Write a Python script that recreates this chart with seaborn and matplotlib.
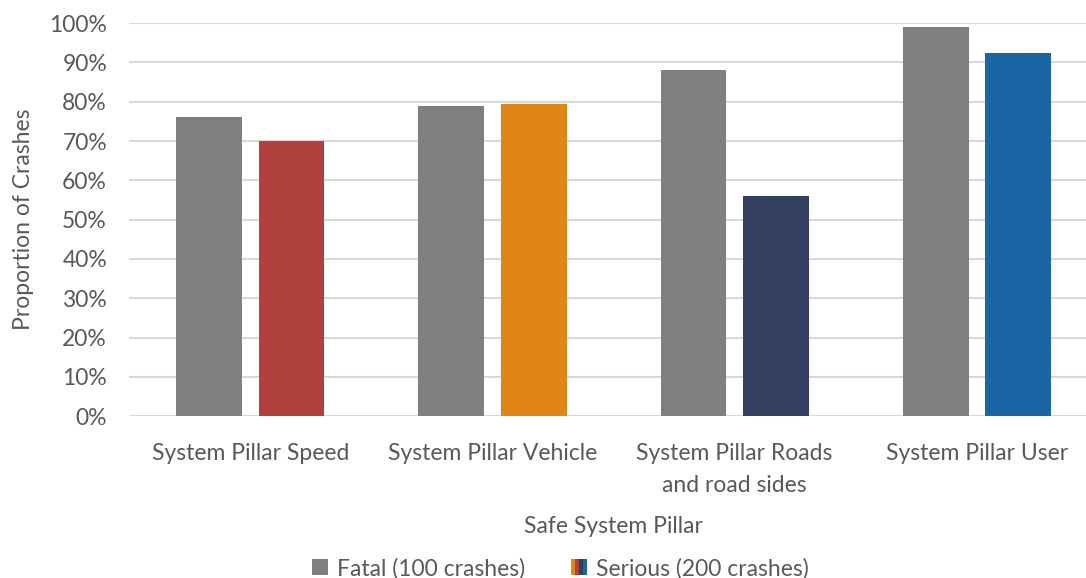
import matplotlib
matplotlib.use("Agg")
import matplotlib.pyplot as plt
import seaborn as sns
import pandas as pd
from matplotlib.patches import Rectangle
from matplotlib.legend_handler import HandlerBase

categories = ["System Pillar Speed", "System Pillar Vehicle",
              "System Pillar Roads\nand road sides", "System Pillar User"]
fatal = [0.76, 0.79, 0.88, 0.99]
serious = [0.70, 0.795, 0.56, 0.925]
series = ["Fatal (100 crashes)", "Serious (200 crashes)"]
yticks = [0, 0.1, 0.2, 0.3, 0.4, 0.5, 0.6, 0.7, 0.8, 0.9, 1.0]

fatal_color = "#7F7F7F"
serious_colors = ["#B0413E", "#E08518", "#333F60", "#1A65A3"]

sns.set_theme(style="white")
plt.rcParams["font.family"] = ["Lato", "DejaVu Sans"]

df = pd.DataFrame({
    "cat": categories * 2,
    "val": fatal + serious,
    "series": [series[0]] * 4 + [series[1]] * 4,
})

FS = 16.5
fig = plt.figure(figsize=(10.86, 5.78), dpi=100)
ax = fig.add_axes([0.119, 0.28, 0.892, 0.68])
sns.barplot(data=df, x="cat", y="val", hue="series", order=categories,
            hue_order=series, palette=[fatal_color, serious_colors[0]],
            width=0.68, gap=0.2, ax=ax, legend=False, saturation=1,
            edgecolor="none")

# recolor serious bars per category
bars = ax.patches
for i, p in enumerate(bars[4:8]):
    p.set_facecolor(serious_colors[i])

ax.set_ylim(0, 1.0)
ax.set_xlim(-0.5, 3.5)
ax.set_yticks(yticks)
ax.set_yticklabels([f"{int(round(t*100))}%" for t in yticks])
ax.yaxis.grid(True, color="#D9D9D9", linewidth=1.5)
ax.set_axisbelow(True)
for s in ["top", "right", "left", "bottom"]:
    ax.spines[s].set_visible(False)
ax.tick_params(axis="both", length=0, labelsize=FS, labelcolor="#595959")
ax.tick_params(axis="y", pad=16)
ax.tick_params(axis="x", pad=19)
ax.set_ylabel("Proportion of Crashes", fontsize=FS, color="#595959", labelpad=11)
ax.set_xlabel("Safe System Pillar", fontsize=FS, color="#595959", labelpad=14)
for lbl in ax.get_xticklabels():
    lbl.set_linespacing(1.7)


class StripeHandler(HandlerBase):
    def __init__(self, colors):
        super().__init__()
        self.colors = colors

    def create_artists(self, legend, orig_handle, xdescent, ydescent,
                       width, height, fontsize, trans):
        n = len(self.colors)
        w = width / n
        arts = []
        for k, c in enumerate(self.colors):
            r = Rectangle((-xdescent + k * w, -ydescent), w, height,
                          facecolor=c, edgecolor="none", transform=trans)
            arts.append(r)
        return arts


h1 = Rectangle((0, 0), 1, 1, facecolor=fatal_color, edgecolor="none")
h2 = Rectangle((0, 0), 1, 1, facecolor="none", edgecolor="none")
leg = fig.legend([h1, h2], series, loc="lower center",
                 bbox_to_anchor=(0.516, -0.038), ncol=2, frameon=False,
                 fontsize=FS, handlelength=0.7, handleheight=0.7,
                 handletextpad=0.4, columnspacing=2.0,
                 handler_map={h2: StripeHandler(["#E08518", "#B0413E", "#333F60", "#1A65A3"])})
for t in leg.get_texts():
    t.set_color("#595959")

fig.savefig("out.png", dpi=100)
